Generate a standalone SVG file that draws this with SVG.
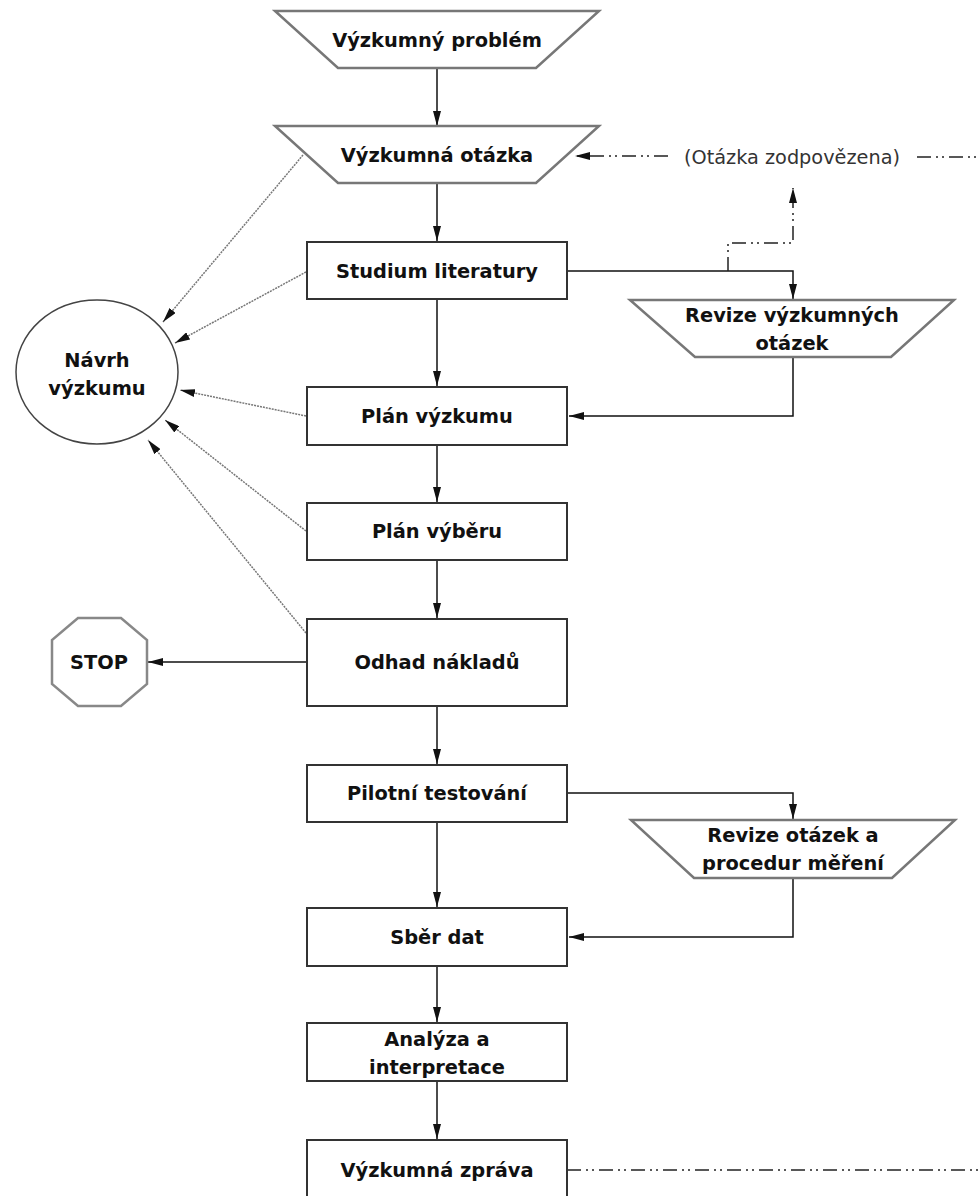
<svg xmlns="http://www.w3.org/2000/svg" width="978" height="1196" viewBox="0 0 978 1196">
<style>
.bg{fill:#fff}
.box{fill:#fff;stroke:#333;stroke-width:2}
.trap{fill:#fff;stroke:#777;stroke-width:2.5}
.oval{fill:#fff;stroke:#444;stroke-width:1.5}
.oct{fill:#fff;stroke:#888;stroke-width:2.5}
.t{font-family:"DejaVu Sans",Verdana,sans-serif;font-weight:bold;font-size:19.4px;fill:#111;text-anchor:middle;dominant-baseline:central}
.tn{font-family:"DejaVu Sans",Verdana,sans-serif;font-size:19.3px;fill:#333;text-anchor:middle;dominant-baseline:central}
.c{fill:none;stroke:#111;stroke-width:1.5}
.dd{fill:none;stroke:#222;stroke-width:1.5;stroke-dasharray:14 5 2 4 2 5}
.dot{fill:none;stroke:#777;stroke-width:1.5;stroke-dasharray:2 1}
</style>
<defs>
<marker id="ah" viewBox="0 0 15 8" refX="15" refY="4" markerWidth="15" markerHeight="8" markerUnits="userSpaceOnUse" orient="auto">
<path d="M0,0 L15,4 L0,8 z" fill="#111"/>
</marker>
</defs>
<rect class="bg" x="0" y="0" width="978" height="1196"/>

<g id="connectors">
<line class="c" x1="437" y1="68" x2="437" y2="126" marker-end="url(#ah)"/>
<line class="c" x1="437" y1="183" x2="437" y2="241" marker-end="url(#ah)"/>
<line class="c" x1="437" y1="299" x2="437" y2="386" marker-end="url(#ah)"/>
<line class="c" x1="437" y1="445" x2="437" y2="502" marker-end="url(#ah)"/>
<line class="c" x1="437" y1="560" x2="437" y2="618" marker-end="url(#ah)"/>
<line class="c" x1="437" y1="706" x2="437" y2="764" marker-end="url(#ah)"/>
<line class="c" x1="437" y1="822" x2="437" y2="907" marker-end="url(#ah)"/>
<line class="c" x1="437" y1="966" x2="437" y2="1022" marker-end="url(#ah)"/>
<line class="c" x1="437" y1="1081" x2="437" y2="1139" marker-end="url(#ah)"/>
<polyline class="c" points="567,271 793,271 793,299" marker-end="url(#ah)"/>
<polyline class="c" points="793,357 793,416 569,416" marker-end="url(#ah)"/>
<polyline class="c" points="567,793 793,793 793,819" marker-end="url(#ah)"/>
<polyline class="c" points="793,878 793,937 569,937" marker-end="url(#ah)"/>
<line class="c" x1="307" y1="662" x2="148" y2="662" marker-end="url(#ah)"/>
<polyline class="dd" points="728,271 728,243 793,243 793,188" marker-end="url(#ah)"/>
<line class="dd" x1="668" y1="156" x2="575" y2="156" marker-end="url(#ah)"/>
<line class="dd" x1="917" y1="157" x2="978" y2="157"/>
<line class="dd" x1="567" y1="1170" x2="978" y2="1170"/>
<line class="dot" x1="303" y1="155" x2="163" y2="322" marker-end="url(#ah)"/>
<line class="dot" x1="306" y1="272" x2="175" y2="343" marker-end="url(#ah)"/>
<line class="dot" x1="306" y1="416" x2="180" y2="390" marker-end="url(#ah)"/>
<line class="dot" x1="306" y1="531" x2="165" y2="420" marker-end="url(#ah)"/>
<line class="dot" x1="306" y1="633" x2="148" y2="440" marker-end="url(#ah)"/>
</g>

<g id="n-problem">
<polygon class="trap" points="275,11 599,11 536,68 338,68"/>
<text class="t" x="437" y="40">Výzkumný problém</text>
</g>
<g id="n-otazka">
<polygon class="trap" points="275,126 599,126 536,183 338,183"/>
<text class="t" x="437" y="155">Výzkumná otázka</text>
</g>
<g id="n-label-zodpovezena">
<text class="tn" x="792" y="157">(Otázka zodpovězena)</text>
</g>
<g id="n-studium">
<rect class="box" x="307" y="242" width="260" height="57"/>
<text class="t" x="437" y="271">Studium literatury</text>
</g>
<g id="n-revize1">
<polygon class="trap" points="630,300 954,300 891,357 695,357"/>
<text class="t" x="792" y="315">Revize výzkumných</text>
<text class="t" x="792" y="343">otázek</text>
</g>
<g id="n-navrh">
<ellipse class="oval" cx="97" cy="372" rx="81" ry="72"/>
<text class="t" x="97" y="360">Návrh</text>
<text class="t" x="97" y="388">výzkumu</text>
</g>
<g id="n-plan-vyzkumu">
<rect class="box" x="307" y="387" width="260" height="58"/>
<text class="t" x="437" y="416">Plán výzkumu</text>
</g>
<g id="n-plan-vyberu">
<rect class="box" x="307" y="503" width="260" height="57"/>
<text class="t" x="437" y="531">Plán výběru</text>
</g>
<g id="n-stop">
<polygon class="oct" points="78,618 121,618 147,640 147,684 121,706 78,706 52,684 52,640"/>
<text class="t" x="99" y="662">STOP</text>
</g>
<g id="n-odhad">
<rect class="box" x="307" y="619" width="260" height="87"/>
<text class="t" x="437" y="662">Odhad nákladů</text>
</g>
<g id="n-pilotni">
<rect class="box" x="307" y="765" width="260" height="57"/>
<text class="t" x="437" y="793">Pilotní testování</text>
</g>
<g id="n-revize2">
<polygon class="trap" points="631,820 955,820 892,878 694,878"/>
<text class="t" x="793" y="835">Revize otázek a</text>
<text class="t" x="793" y="863">procedur měření</text>
</g>
<g id="n-sber">
<rect class="box" x="307" y="908" width="260" height="58"/>
<text class="t" x="437" y="937">Sběr dat</text>
</g>
<g id="n-analyza">
<rect class="box" x="307" y="1023" width="260" height="58"/>
<text class="t" x="437" y="1039">Analýza a</text>
<text class="t" x="437" y="1067">interpretace</text>
</g>
<g id="n-zprava">
<rect class="box" x="307" y="1140" width="260" height="70"/>
<text class="t" x="437" y="1170">Výzkumná zpráva</text>
</g>
</svg>
